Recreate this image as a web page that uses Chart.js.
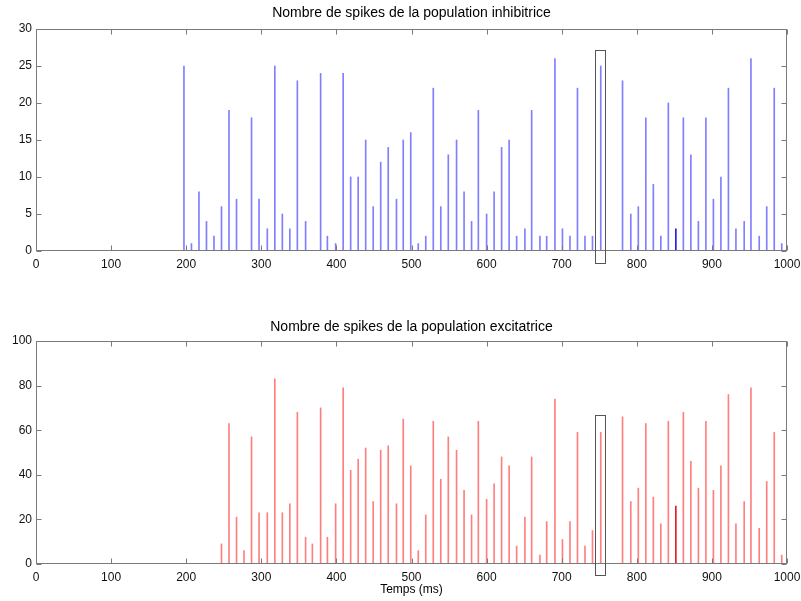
<!DOCTYPE html>
<html>
<head>
<meta charset="utf-8">
<script src="https://cdn.jsdelivr.net/npm/chart.js@4/dist/chart.umd.min.js"></script>
<style>
  body { margin: 0; background: #fff; }
  #wrap { position: relative; width: 801px; height: 601px; }
  canvas { position: absolute; left: 0; }
</style>
</head>
<body>
<div id="wrap">
  <canvas id="inhib" width="801" height="300" style="top:0px"></canvas>
  <canvas id="excit" width="801" height="301" style="top:300px"></canvas>
</div>
<script>
// spike times (ms)
const times = [197,207,217,227,237,247,257,267,277,287,
               297,308,318,328,338,348,359,368,379,388,
               399,409,419,429,439,449,459,469,480,489,
               499,509,519,529,539,549,560,570,580,589,
               600,610,620,630,640,651,660,671,680,691,
               701,711,721,731,741,752,781,792,802,812,
               822,832,842,852,862,872,882,892,902,912,
               922,932,943,952,963,973,983,993];

// spike counts, inhibitory population
const inhibSpikes = [25,1,8,4,2,6,19,7,0,18,
                     7,3,25,5,3,23,4,0,24,2,
                     1,24,10,10,15,6,12,14,7,15,
                     16,1,2,22,6,13,15,8,4,19,
                     5,8,14,15,2,3,19,2,2,26,
                     3,2,22,2,2,25,23,5,6,18,
                     9,2,20,3,18,13,4,18,7,10,
                     22,3,4,26,2,6,22,1];

// spike counts, excitatory population
const excitSpikes = [0,0,0,0,0,9,63,21,6,57,
                     23,23,83,23,27,68,12,9,70,12,
                     27,79,42,47,52,28,51,53,27,65,
                     44,6,22,64,38,57,51,33,22,64,
                     29,36,48,44,8,21,48,4,19,74,
                     11,19,59,8,15,59,66,28,34,63,
                     30,18,64,26,68,46,34,64,33,44,
                     76,18,28,79,16,37,59,4];

const darkTimes = [852];

// highlighted window
const boxX = [744, 757];
const boxInhibY = [-1.6, 27.2];
const boxExcitY = [-5, 66.6];

const FONT = 'Liberation Sans, Arial, Helvetica, sans-serif';
const AXIS = '#7a7a7a';

// axes box + inward ticks on all four sides, MATLAB style
const framePlugin = {
  id: 'frame',
  afterDatasetsDraw(chart) {
    const {ctx, chartArea: a, scales} = chart;
    const L = Math.round(a.left) + 0.5, R = Math.round(a.right) - 0.5;
    const T = Math.round(a.top) + 0.5, B = Math.round(a.bottom) - 0.5;
    ctx.save();
    ctx.strokeStyle = AXIS;
    ctx.lineWidth = 1;
    ctx.beginPath();
    scales.x.ticks.forEach(t => {
      const px = Math.round(scales.x.getPixelForValue(t.value)) + 0.5;
      ctx.moveTo(px, B); ctx.lineTo(px, B - 5);
      ctx.moveTo(px, T); ctx.lineTo(px, T + 5);
    });
    scales.y.ticks.forEach(t => {
      const py = Math.round(scales.y.getPixelForValue(t.value)) + 0.5;
      ctx.moveTo(L, py); ctx.lineTo(L + 5, py);
      ctx.moveTo(R, py); ctx.lineTo(R - 5, py);
    });
    ctx.stroke();
    ctx.strokeRect(L, T, R - L, B - T);
    ctx.restore();
  }
};

const boxPlugin = {
  id: 'box',
  afterDatasetsDraw(chart, args, opts) {
    const {ctx, scales} = chart;
    const x1 = Math.round(scales.x.getPixelForValue(opts.x[0])) + 0.5;
    const x2 = Math.round(scales.x.getPixelForValue(opts.x[1])) + 0.5;
    const y1 = Math.round(scales.y.getPixelForValue(opts.y[1])) + 0.5;
    const y2 = Math.round(scales.y.getPixelForValue(opts.y[0])) + 0.5;
    ctx.save();
    ctx.strokeStyle = '#555';
    ctx.lineWidth = 1;
    ctx.strokeRect(x1, y1, x2 - x1, y2 - y1);
    ctx.restore();
  }
};

function spikeChart(id, values, color, dark, yMax, yStep, title, titlePad, box, geo) {
  const pts = [];
  times.forEach((t, i) => { if (values[i] > 0) pts.push({x: t, y: values[i]}); });

  return new Chart(document.getElementById(id), {
    type: 'bar',
    data: {
      datasets: [{
        data: pts,
        barThickness: 1,
        borderWidth: 0,
        backgroundColor: c => (c.raw && darkTimes.includes(c.raw.x)) ? dark : color
      }]
    },
    options: {
      responsive: false,
      animation: false,
      events: [],
      layout: { padding: { left: 0, right: 14, top: 0, bottom: 0 } },
      plugins: {
        legend: { display: false },
        tooltip: { enabled: false },
        title: {
          display: true, text: title, fullSize: false, color: '#000',
          font: { family: FONT, size: 14, weight: 'normal' },
          padding: titlePad
        },
        box: box
      },
      scales: {
        x: {
          type: 'linear', position: 'bottom', min: 0, max: 1000, offset: false,
          ticks: { stepSize: 100, color: '#111', padding: 6, maxRotation: 0,
                   callback: v => String(v),
                   font: { family: FONT, size: 12 } },
          grid: { display: false, drawTicks: false },
          border: { display: false },
          title: geo.xTitle ? { display: true, text: geo.xTitle, color: '#000',
                   font: { family: FONT, size: 12 }, padding: { top: 0, bottom: 4 } } : { display: false },
          afterFit: s => { s.height = geo.xh; s.paddingLeft = 0; s.paddingRight = 0; }
        },
        y: {
          type: 'linear', position: 'left', min: 0, max: yMax,
          ticks: { stepSize: yStep, color: '#111', padding: 4,
                   font: { family: FONT, size: 12 } },
          grid: { display: false, drawTicks: false },
          border: { display: false },
          afterFit: s => { s.width = 36; s.paddingTop = 0; s.paddingBottom = 0; }
        }
      }
    },
    plugins: [framePlugin, boxPlugin]
  });
}

spikeChart('inhib', inhibSpikes, 'rgba(0,0,255,0.5)', '#2020e0', 30, 5,
  'Nombre de spikes de la population inhibitrice',
  { top: 5, bottom: 7.2 },
  { x: boxX, y: boxInhibY },
  { xh: 49 });

spikeChart('excit', excitSpikes, 'rgba(255,0,0,0.5)', '#e02020', 100, 20,
  'Nombre de spikes de la population excitatrice',
  { top: 18.6, bottom: 5.6 },
  { x: boxX, y: boxExcitY },
  { xh: 37, xTitle: 'Temps (ms)' });
</script>
</body>
</html>
